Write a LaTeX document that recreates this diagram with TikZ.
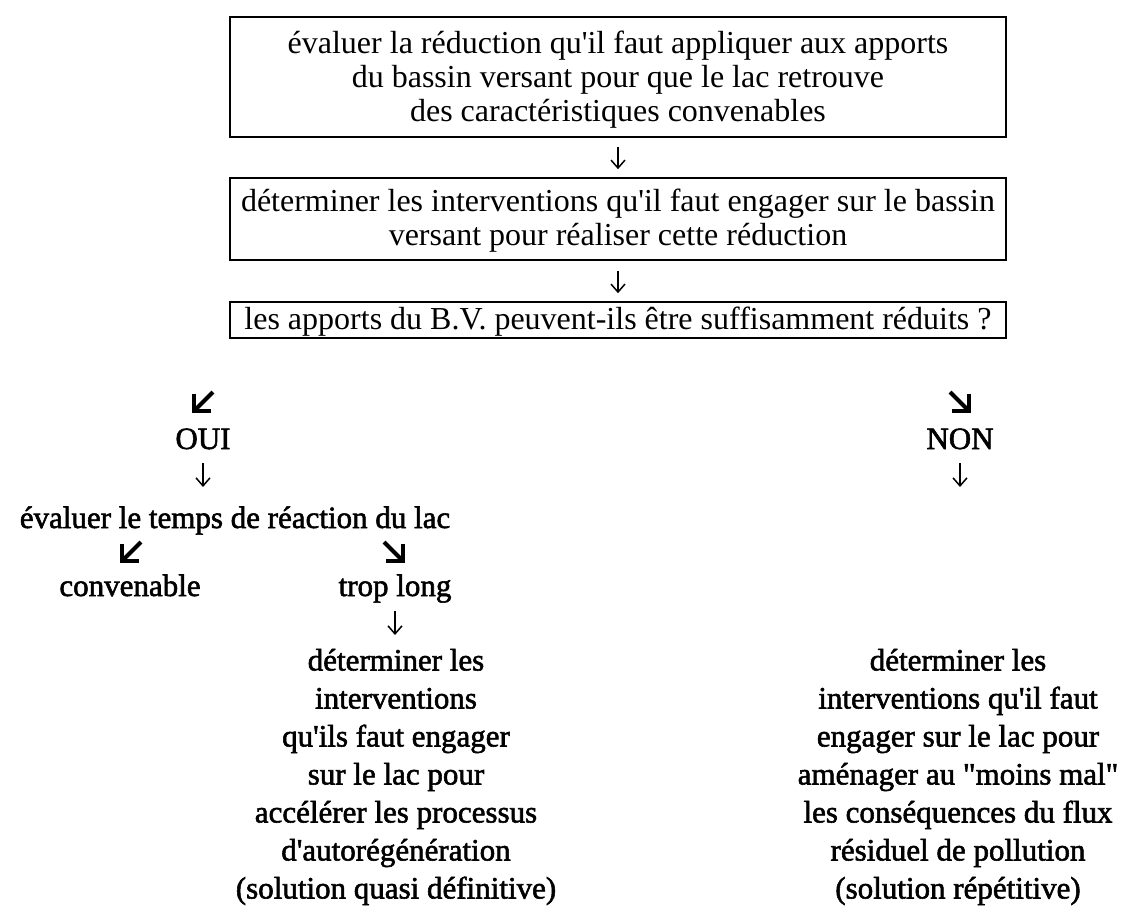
\documentclass[tikz,border=0pt]{standalone}
\usepackage{fontspec}
\setmainfont{Liberation Serif}
\newfontfamily\plainserif{Liberation Serif}
\newfontfamily\heavyserif{Liberation Serif}[FakeBold=1.8]
\usetikzlibrary{arrows.meta}

\tikzset{
  box/.style={draw, line width=1.6pt, minimum width=776pt, inner sep=0pt},
  boxtxt/.style={inner sep=0pt, align=center, font=\plainserif\fontsize{32}{34}\selectfont},
  lbl/.style={inner sep=0pt, align=center, font=\heavyserif\fontsize{31}{38}\selectfont},
  down/.style={line width=1.5pt, -{Straight Barb[length=8pt,width=14pt,line width=1.5pt]}},
  diag/.style={line width=4pt, -{Straight Barb[angle=90:13pt 1, line width=4pt]}}
}

\begin{document}
\begin{tikzpicture}[x=1pt,y=-1pt]
\useasboundingbox (0,0) rectangle (1127,907);

% decision boxes
\node[box, minimum height=120pt] (b1) at (618,77) {};
\node[box, minimum height=82pt]  (b2) at (618,219) {};
\node[box, minimum height=36pt]  (b3) at (618,320) {};

\node[boxtxt] (t1) at ([yshift=-3pt]b1.center)
  {évaluer la réduction qu'il faut appliquer aux apports\\
   du bassin versant pour que le lac retrouve\\
   des caractéristiques convenables};
\node[boxtxt] (t2) at ([yshift=-2pt]b2.center)
  {déterminer les interventions qu'il faut engager sur le bassin\\
   versant pour réaliser cette réduction};
\node[boxtxt] (t3) at ([yshift=-2pt]b3.center)
  {les apports du B.V. peuvent-ils être suffisamment réduits ?};

\draw[down, shorten <=9pt, shorten >=8pt] (b1) -- (b2);
\draw[down, shorten <=10pt, shorten >=8pt] (b2) -- (b3);

% left branch
\node[lbl, anchor=base] (oui)  at (203,449) {OUI};
\node[lbl, anchor=base] (eval) at (235,528) {évaluer le temps de réaction du lac};
\node[lbl, anchor=base] (conv) at (130,596) {convenable};
\node[lbl, anchor=base] (long) at (395,596) {trop long};
\node[lbl] (actL) at (396,777)
  {déterminer les\\ interventions\\ qu'ils faut engager\\ sur le lac pour\\
   accélérer les processus\\ d'autorégénération\\ (solution quasi définitive)};

% right branch
\node[lbl, anchor=base] (non) at (960,449) {NON};
\node[lbl] (actR) at (958,777)
  {déterminer les\\ interventions qu'il faut\\ engager sur le lac pour\\
   aménager au "moins mal"\\ les conséquences du flux\\ résiduel de pollution\\
   (solution répétitive)};

% arrow ends
\coordinate (o1) at (213,392);
\coordinate (o2) at (192,413);
\coordinate (n1) at (950,392);
\coordinate (n2) at (971,413);
\coordinate (c1) at (141,542);
\coordinate (c2) at (120,563);
\coordinate (r1) at (384,542);
\coordinate (r2) at (405,563);
\coordinate (ou1) at (203,463);
\coordinate (ou2) at (203,487);
\coordinate (no1) at (960,463);
\coordinate (no2) at (960,487);
\coordinate (lo1) at (395,611);
\coordinate (lo2) at (395,635);

\draw[diag] (o1) -- (o2);
\draw[diag] (n1) -- (n2);
\draw[diag] (c1) -- (c2);
\draw[diag] (r1) -- (r2);

\draw[down] (ou1) -- (ou2);
\draw[down] (no1) -- (no2);
\draw[down] (lo1) -- (lo2);
\end{tikzpicture}
\end{document}
